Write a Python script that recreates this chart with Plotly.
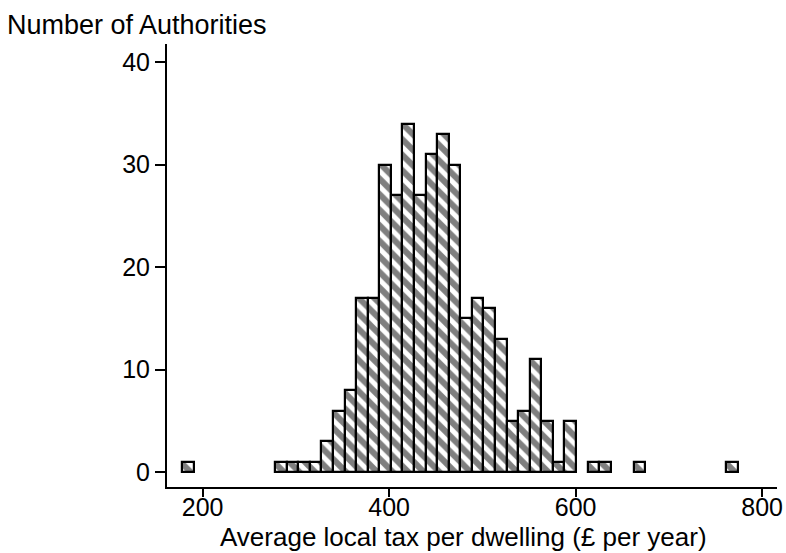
import plotly.graph_objects as go

# Histogram: bins of equal width, counts
bin_start = 178.4
bin_width = 12.41
counts = [1, 0, 0, 0, 0, 0, 0, 0, 1, 1, 1, 1, 3, 6, 8, 17, 17, 30, 27, 34, 27, 31,
          33, 30, 15, 17, 16, 13, 5, 6, 11, 5, 1, 5, 0, 1, 1, 0, 0, 1, 0, 0, 0, 0,
          0, 0, 0, 1]
x_ticks = [200, 400, 600, 800]
y_ticks = [0, 10, 20, 30, 40]
x_title = "Average local tax per dwelling (£ per year)"
y_title = "Number of Authorities"

centers = [bin_start + bin_width * (i + 0.5) for i, c in enumerate(counts) if c > 0]
heights = [c for c in counts if c > 0]

FONT = "Liberation Sans, Arial, Helvetica, sans-serif"

fig = go.Figure(go.Bar(
    x=centers, y=heights, width=bin_width,
    marker=dict(color="white", line=dict(color="black", width=2.2),
                pattern=dict(shape="\\", fgcolor="black", bgcolor="white",
                             size=11, solidity=0.55)),
    showlegend=False,
))

fig.update_layout(
    width=786, height=553,
    margin=dict(l=167, r=3, t=44, b=66),
    paper_bgcolor="white", plot_bgcolor="white",
    font=dict(family=FONT, size=25, color="black"),
    bargap=0,
    xaxis=dict(range=[161.8, 815.9], tickvals=x_ticks, showgrid=False, zeroline=False,
               showline=True, linecolor="black", linewidth=2,
               ticks="outside", ticklen=8, tickwidth=1.5, tickcolor="black",
               tickfont=dict(size=25), ticklabelstandoff=-11, ticklabeloverflow="allow"),
    yaxis=dict(range=[-1.46, 41.76], tickvals=y_ticks, showgrid=False, zeroline=False,
               showline=True, linecolor="black", linewidth=2,
               ticks="outside", ticklen=10, tickwidth=1.5, tickcolor="black",
               tickfont=dict(size=25)),
    annotations=[
        dict(text=y_title, xref="paper", yref="paper", x=(3 - 167) / 616, y=(487 - 25) / 443,
             xanchor="left", yanchor="middle", showarrow=False, font=dict(size=27)),
        dict(text=x_title, xref="paper", yref="paper", x=(466 - 167) / 616, y=(487 - 537) / 443,
             xanchor="center", yanchor="middle", showarrow=False, font=dict(size=26)),
    ],
)

fig.write_html("out.html")
